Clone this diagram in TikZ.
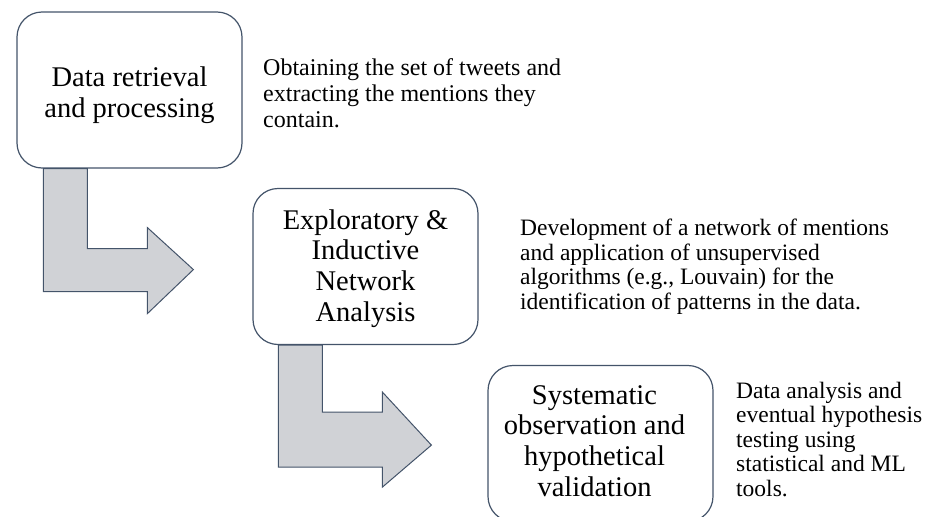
\documentclass[tikz,border=0pt]{standalone}
\usepackage{fontspec}
\setmainfont{Liberation Serif}
\usetikzlibrary{calc}
\definecolor{edge}{HTML}{44546A}
\definecolor{arrowfill}{HTML}{D0D2D6}
\tikzset{
  stage/.style={draw=edge, line width=1.2pt, rounded corners=25pt, fill=white,
    minimum width=225pt, minimum height=156pt, inner sep=0pt},
  stagetext/.style={align=center, inner sep=0pt, font=\fontsize{28.5}{30.8}\selectfont},
  desc/.style={align=left, anchor=west, inner sep=0pt, font=\fontsize{23.5}{24.5}\selectfont},
  blockarrow/.style={draw=edge, line width=1pt, fill=arrowfill, line join=miter}
}
\begin{document}
\begin{tikzpicture}[x=1pt,y=-1pt]
\useasboundingbox (0,0) rectangle (935,517);
\begin{scope}
\clip (0,0) rectangle (935,517);
% boxes
\node[stage] (b1) at (129.5,90) {};
\node[stage] (b2) at (365.5,266.5) {};
\node[stage] (b3) at (600.5,443.5) {};
\node[stagetext] (t1) at ($(b1.center)+(0,5)$) {Data retrieval\\and processing};
\node[stagetext] (t2) at ($(b2.center)+(0,2)$) {Exploratory \&\\Inductive\\Network\\Analysis};
\node[stagetext] (t3) at ($(b3.center)+(-6,-2.5)$) {Systematic\\observation and\\hypothetical\\validation};
% block arrows
\draw[blockarrow] ($(b1.south west)+(27,0)$) -- ++(44,0) -- ++(0,80) -- ++(60,0) -- ++(0,-21)
  -- ++(46,42) -- ++(-46,44) -- ++(0,-22) -- ++(-104,0) -- cycle;
\draw[blockarrow] ($(b2.south west)+(26,0)$) -- ++(44,0) -- ++(0,67) -- ++(60,0) -- ++(0,-20)
  -- ++(49,53) -- ++(-49,42) -- ++(0,-20) -- ++(-104,0) -- cycle;
% descriptions
\node[desc, font=\fontsize{24}{26}\selectfont] (d1) at (263,93) {Obtaining the set of tweets and\\extracting the mentions they\\contain.};
\node[desc] (d2) at (520,266.5) {Development of a network of mentions\\and application of unsupervised\\algorithms (e.g., Louvain) for the\\identification of patterns in the data.};
\node[desc] (d3) at (736,439.5) {Data analysis and\\eventual hypothesis\\testing using\\statistical and ML\\tools.};
\end{scope}
\end{tikzpicture}
\end{document}
